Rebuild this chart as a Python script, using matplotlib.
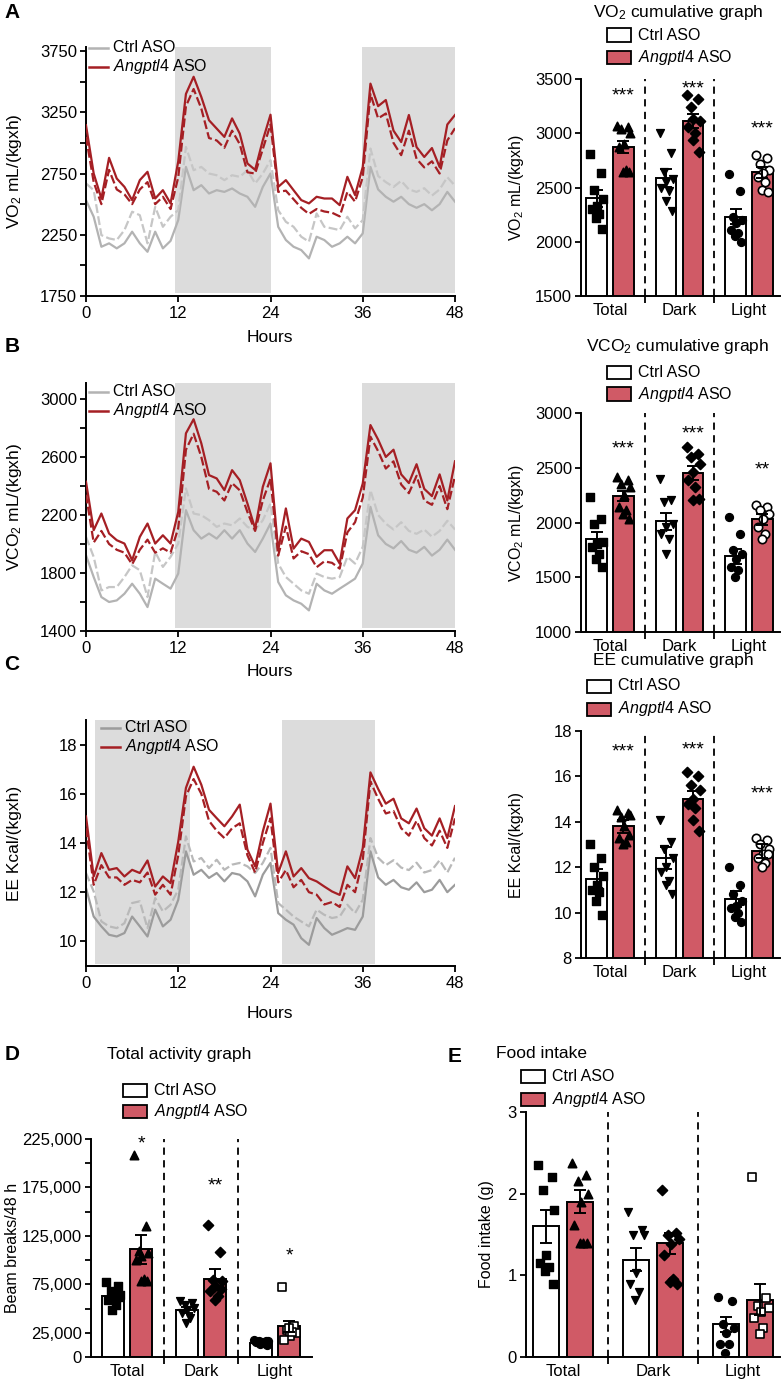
import numpy as np
import matplotlib
matplotlib.use('Agg')
import matplotlib.pyplot as plt
from matplotlib.patches import Rectangle
from matplotlib.lines import Line2D
from matplotlib.ticker import FuncFormatter

plt.rcParams['font.family'] = ['Liberation Sans', 'DejaVu Sans']
plt.rcParams['mathtext.fontset'] = 'custom'
plt.rcParams['mathtext.rm'] = 'Liberation Sans'
plt.rcParams['mathtext.it'] = 'Liberation Sans:italic'
plt.rcParams['mathtext.bf'] = 'Liberation Sans:bold'

W, H = 783, 1385

# ---------------- time course data (hourly) ----------------
hours = np.arange(0, 49)

vo2_ctrl = [2533, 2397, 2152, 2180, 2139, 2180, 2275, 2180, 2111, 2275, 2139, 2200, 2370,
            2804, 2614, 2655, 2587, 2614, 2600, 2628, 2587, 2560, 2478, 2641, 2750,
            2315, 2207, 2152, 2125, 2057, 2234, 2207, 2152, 2180, 2234, 2180, 2261,
            2804, 2620, 2560, 2520, 2560, 2500, 2470, 2500, 2450, 2500, 2600, 2520]
vo2_ctrl_d = [2669, 2614, 2247, 2220, 2207, 2288, 2438, 2410, 2180, 2478, 2315, 2397, 2451,
              2967, 2777, 2804, 2750, 2736, 2696, 2736, 2723, 2777, 2669, 2750, 2859,
              2451, 2356, 2315, 2234, 2193, 2424, 2315, 2302, 2288, 2397, 2302, 2370,
              2954, 2730, 2680, 2640, 2690, 2620, 2600, 2630, 2570, 2620, 2720, 2650]
vo2_asp = [3144, 2750, 2546, 2878, 2709, 2641, 2533, 2696, 2764, 2546, 2614, 2506, 2850,
           3400, 3540, 3375, 3185, 3117, 3049, 3200, 3076, 2832, 2780, 3022, 3230,
           2641, 2696, 2614, 2533, 2506, 2560, 2546, 2546, 2492, 2723, 2574, 2804,
           3484, 3300, 3350, 3100, 3007, 3228, 2966, 2885, 2958, 2803, 3150, 3228]
vo2_asp_d = [3049, 2680, 2500, 2780, 2620, 2580, 2500, 2620, 2680, 2500, 2560, 2460, 2720,
             3300, 3440, 3280, 3040, 3020, 2960, 3100, 2990, 2760, 2750, 2950, 3150,
             2600, 2610, 2540, 2470, 2420, 2460, 2440, 2430, 2400, 2600, 2520, 2720,
             3400, 3200, 3240, 3000, 2900, 3100, 2870, 2800, 2850, 2750, 3020, 3120]

vco2_ctrl = [1922, 1772, 1634, 1600, 1611, 1657, 1726, 1657, 1565, 1761, 1726, 1692, 1796,
             2233, 2095, 2037, 2072, 2037, 2095, 2037, 2095, 2003, 1945, 2037, 2141,
             1738, 1646, 1611, 1588, 1542, 1726, 1680, 1657, 1692, 1726, 1761, 1865,
             2256, 2060, 2000, 1970, 2020, 1960, 1940, 1980, 1920, 1960, 2030, 1960]
vco2_ctrl_d = [2049, 1911, 1680, 1703, 1703, 1772, 1853, 1819, 1634, 1945, 1842, 1911, 2003,
               2383, 2210, 2199, 2164, 2118, 2141, 2129, 2176, 2118, 2095, 2164, 2279,
               1865, 1772, 1726, 1680, 1657, 1796, 1772, 1761, 1772, 1911, 1865, 1980,
               2371, 2200, 2140, 2100, 2150, 2090, 2070, 2100, 2050, 2090, 2160, 2100]
vco2_asp = [2429, 2095, 2210, 2072, 2026, 2003, 1888, 2049, 2141, 2003, 2060, 2003, 2222,
            2763, 2860, 2694, 2475, 2452, 2371, 2509, 2440, 2279, 2106, 2394, 2556,
            1957, 2245, 1968, 2037, 2014, 1911, 1957, 1957, 1865, 2176, 2233, 2417,
            2820, 2720, 2600, 2650, 2480, 2420, 2550, 2380, 2330, 2480, 2300, 2570]
vco2_asp_d = [2340, 2010, 2090, 2000, 1960, 1940, 1860, 1960, 2030, 1940, 1970, 1940, 2110,
              2650, 2760, 2600, 2380, 2360, 2300, 2420, 2370, 2220, 2090, 2300, 2450,
              1920, 2120, 1900, 1950, 1930, 1840, 1880, 1870, 1830, 2080, 2150, 2320,
              2740, 2640, 2520, 2570, 2410, 2350, 2470, 2300, 2270, 2400, 2240, 2470]

ee_ctrl = [12.17, 11.01, 10.61, 10.27, 10.20, 10.34, 11.01, 10.61, 10.20, 11.29, 10.61, 10.88, 11.69,
           13.66, 12.71, 12.91, 12.58, 12.78, 12.44, 12.78, 12.71, 12.44, 11.83, 12.71, 13.19,
           11.15, 10.88, 10.68, 10.13, 9.86, 10.95, 10.54, 10.27, 10.40, 10.54, 10.47, 11.01,
           13.66, 12.6, 12.3, 12.5, 12.2, 12.1, 12.4, 12.0, 12.1, 12.5, 12.0, 12.3]
ee_ctrl_d = [12.78, 12.03, 10.81, 10.61, 10.54, 10.74, 11.56, 11.63, 10.54, 11.76, 11.22, 11.49, 12.10,
             14.27, 13.25, 13.39, 12.98, 13.32, 12.91, 13.12, 13.19, 13.05, 12.78, 13.19, 13.80,
             11.56, 11.29, 11.01, 10.81, 10.61, 11.29, 11.08, 10.95, 11.01, 11.49, 11.15, 11.69,
             14.20, 13.4, 13.1, 13.3, 13.0, 12.9, 13.2, 12.8, 12.9, 13.3, 12.8, 13.4]
ee_asp = [15.08, 12.64, 13.59, 12.91, 12.98, 12.64, 12.91, 12.78, 13.29, 12.23, 12.64, 12.37, 14.06,
          16.24, 17.10, 16.37, 15.35, 15.01, 14.68, 15.08, 15.56, 13.73, 13.05, 14.47, 15.60,
          12.78, 13.66, 12.64, 12.98, 12.57, 12.44, 12.23, 12.03, 11.89, 13.05, 12.57, 13.79,
          16.87, 16.2, 15.6, 15.8, 15.0, 14.8, 15.4, 14.6, 14.3, 15.0, 14.2, 15.5]
ee_asp_d = [14.6, 12.3, 13.1, 12.6, 12.6, 12.3, 12.5, 12.4, 12.8, 11.9, 12.3, 11.9, 13.5,
            15.9, 16.6, 16.0, 14.9, 14.5, 14.2, 14.6, 14.8, 13.5, 12.8, 14.0, 15.0,
            12.4, 12.9, 12.2, 12.5, 12.0, 11.9, 11.5, 11.6, 11.4, 12.3, 12.0, 13.3,
            16.5, 15.8, 15.2, 15.3, 14.6, 14.3, 14.9, 14.2, 13.9, 14.5, 13.8, 15.0]

dark_ab = [(11.6, 24), (35.9, 48)]
dark_c = [(1.2, 13.5), (25.5, 37.6)]

# ---------------- bar data ----------------
periods = ['Total', 'Dark', 'Light']

vo2_c_mean, vo2_c_sem = [2400, 2590, 2230], [80, 85, 70]
vo2_a_mean, vo2_a_sem = [2870, 3110, 2640], [55, 65, 50]
vo2_c_pts = [[2810, 2630, 2480, 2390, 2330, 2300, 2260, 2220, 2120],
             [3000, 2820, 2640, 2580, 2550, 2500, 2470, 2380, 2280],
             [2620, 2470, 2230, 2200, 2170, 2110, 2080, 2050, 2000]]
vo2_a_pts = [[3070, 3060, 3040, 3000, 2900, 2870, 2660, 2640, 2640],
             [3350, 3320, 3240, 3110, 3130, 3060, 3000, 2940, 2830],
             [2800, 2770, 2720, 2660, 2630, 2600, 2550, 2480, 2460]]
vo2_stars, vo2_star_y = ['***', '***', '***'], [3400, 3472, 3104]

vco2_c_mean, vco2_c_sem = [1852, 2011, 1690], [60, 75, 70]
vco2_a_mean, vco2_a_sem = [2245, 2455, 2030], [45, 65, 50]
vco2_c_pts = [[2233, 2035, 1990, 1822, 1807, 1776, 1715, 1670, 1594],
              [2400, 2203, 2187, 1990, 1959, 1898, 1852, 1715],
              [2050, 1898, 1746, 1715, 1670, 1594, 1563, 1503]]
vco2_a_pts = [[2416, 2385, 2355, 2324, 2250, 2142, 2111, 2081, 2035],
              [2690, 2629, 2598, 2537, 2460, 2385, 2324, 2203, 2215],
              [2157, 2142, 2111, 2081, 2035, 1959, 1898, 1852]]
vco2_stars, vco2_star_y = ['***', '***', '**'], [2735, 2872, 2543]

ee_c_mean, ee_c_sem = [11.5, 12.4, 10.6], [0.4, 0.5, 0.35]
ee_a_mean, ee_a_sem = [13.8, 15.0, 12.7], [0.3, 0.35, 0.3]
ee_c_pts = [[13.0, 12.4, 12.0, 11.6, 11.2, 11.0, 10.9, 10.5, 9.9],
            [14.1, 13.1, 12.8, 12.4, 12.0, 11.8, 11.4, 11.2, 10.8],
            [12.0, 11.2, 10.8, 10.5, 10.3, 10.2, 10.0, 9.8, 9.6]]
ee_a_pts = [[14.5, 14.4, 14.2, 14.3, 13.8, 13.3, 13.1, 13.0, 13.4],
            [16.2, 16.0, 15.6, 15.4, 15.0, 14.8, 14.6, 14.1, 13.6],
            [13.3, 13.2, 13.0, 12.8, 12.6, 12.4, 12.2, 12.0, 12.6]]
ee_stars, ee_star_y = ['***', '***', '***'], [17.35, 17.45, 15.5]

act_c_mean, act_c_sem = [63000, 48500, 14400], [3000, 2800, 800]
act_a_mean, act_a_sem = [111000, 81000, 31500], [15000, 9500, 6000]
act_c_pts = [[77000, 72800, 67700, 64200, 62500, 59100, 53900, 48800, 62000],
             [57400, 55500, 53900, 50500, 48000, 45300, 40200, 35000],
             [18000, 17000, 16500, 16000, 15500, 15000, 14500, 13500, 12500]]
act_a_pts = [[208500, 135300, 109000, 107000, 104000, 100000, 80000, 78000, 78000],
             [136400, 107900, 79700, 78000, 72800, 67700, 62500, 59100, 70000],
             [72100, 31600, 28200, 24900, 21300, 18000, 26000, 30000]]
act_stars, act_star_y = ['*', '**', '*'], [227000, 183400, 110600]

food_c_mean, food_c_sem = [1.6, 1.19, 0.4], [0.2, 0.14, 0.09]
food_a_mean, food_a_sem = [1.9, 1.39, 0.7], [0.14, 0.13, 0.19]
food_c_pts = [[2.35, 2.2, 2.05, 1.8, 1.25, 1.15, 1.1, 1.05, 0.9],
              [1.77, 1.55, 1.5, 1.5, 1.03, 0.9, 0.8, 0.7],
              [0.73, 0.68, 0.4, 0.35, 0.3, 0.16, 0.16, 0.05]]
food_a_pts = [[2.38, 2.23, 2.15, 2.0, 1.9, 1.62, 1.4, 1.4, 1.4],
              [2.05, 1.52, 1.5, 1.45, 1.38, 1.25, 0.95, 0.92, 0.9],
              [2.2, 0.72, 0.62, 0.6, 0.55, 0.48, 0.35, 0.28]]

# ---------------- styling ----------------
RED = '#A51F24'
BAR_RED = '#D05A66'
SHADE = '#DCDCDC'
ASP_LABEL = r'$\it{Angptl4}$ ASO'
JIT = np.array([-0.30, 0.22, -0.10, 0.32, 0.02, -0.22, 0.12, -0.02, 0.28])

fig = plt.figure(figsize=(W / 100, H / 100), dpi=100)


def axes_px(x0, y0, x1, y1):
    return fig.add_axes([x0 / W, 1 - y1 / H, (x1 - x0) / W, (y1 - y0) / H])


def ftext(x, y, s, **kw):
    fig.text(x / W, 1 - y / H, s, **kw)


def style(ax):
    for side in ['top', 'right']:
        ax.spines[side].set_visible(False)
    for side in ['left', 'bottom']:
        ax.spines[side].set_linewidth(1.4)
    ax.tick_params(which='both', direction='out', length=4.5, width=1.3,
                   labelsize=12, pad=2)


def time_panel(box, ylim, yticks, yminor, shade_lo, dark, series, grays,
               ylabel, hours_y, leg_x, leg_y):
    ax = axes_px(*box)
    style(ax)
    for a, b in dark:
        ax.add_patch(Rectangle((a, shade_lo), b - a, ylim[1] - shade_lo,
                               facecolor=SHADE, lw=0, zorder=0))
    c_s, c_d, a_s, a_d = series
    ax.plot(hours, c_s, color=grays[0], lw=1.6, zorder=2)
    ax.plot(hours, c_d, color=grays[1], lw=1.6, ls=(0, (4, 1.5)), zorder=2)
    ax.plot(hours, a_d, color=RED, lw=1.6, ls=(0, (4, 1.5)), zorder=3)
    ax.plot(hours, a_s, color=RED, lw=1.6, zorder=3)
    ax.set_xlim(0, 48)
    ax.set_ylim(*ylim)
    ax.set_xticks([0, 12, 24, 36, 48])
    ax.set_yticks(yticks)
    ax.set_yticks(yminor, minor=True)
    ax.tick_params(axis='x', pad=3)
    ftext(270, hours_y, 'Hours', fontsize=12.5, ha='center', va='center')
    ftext(15, (box[1] + box[3]) / 2, ylabel, fontsize=12.5, ha='center',
          va='center', rotation=90)
    for dy, col, lab in [(0, grays[0], 'Ctrl ASO'), (19, RED, ASP_LABEL)]:
        y = 1 - (leg_y + dy) / H
        fig.add_artist(Line2D([leg_x / W, (leg_x + 19) / W], [y, y], color=col, lw=1.8))
        ftext(leg_x + 24, leg_y + dy, lab, fontsize=11.5, va='center', ha='left')
    return ax


def bar_panel(box, ylim, yticks, c_mean, c_sem, a_mean, a_sem, c_pts, a_pts,
              a_marks, xlim, off, width, ylabel, ylab_x, stars=None, star_y=None,
              yfmt=None, yminor=None):
    ax = axes_px(*box)
    style(ax)
    pos = np.arange(3)
    ax.bar(pos - off, c_mean, width, color='white', edgecolor='k', lw=1.4, zorder=2)
    ax.bar(pos + off, a_mean, width, color=BAR_RED, edgecolor='k', lw=1.4, zorder=2)
    c_marks = ['s', 'v', 'o']
    for i in range(3):
        n = len(c_pts[i])
        ax.scatter(pos[i] - off + JIT[:n] * width, c_pts[i], marker=c_marks[i],
                   s=32, color='k', zorder=3, clip_on=False)
        n = len(a_pts[i])
        m, face = a_marks[i]
        ax.scatter(pos[i] + off + JIT[:n] * width, a_pts[i], marker=m,
                   s=26 if m == 'D' else 36, facecolor=face, edgecolor='k',
                   linewidths=1.2, zorder=3, clip_on=False)
    ax.errorbar(pos - off, c_mean, yerr=c_sem, fmt='none', ecolor='k',
                elinewidth=1.4, capsize=4.5, capthick=1.4, zorder=4)
    ax.errorbar(pos + off, a_mean, yerr=a_sem, fmt='none', ecolor='k',
                elinewidth=1.4, capsize=4.5, capthick=1.4, zorder=4)
    for xs in [0.5, 1.5]:
        ax.axvline(xs, color='k', lw=1.3, ls=(0, (4, 3)), zorder=1)
    if stars:
        for i in range(3):
            ax.annotate(stars[i], (pos[i] + off, star_y[i]), xytext=(0, -8),
                        textcoords='offset points', ha='center', va='baseline',
                        fontsize=14, annotation_clip=False)
    ax.set_xlim(*xlim)
    ax.set_ylim(*ylim)
    ax.set_yticks(yticks)
    if yminor is not None:
        ax.set_yticks(yminor, minor=True)
    if yfmt is not None:
        ax.yaxis.set_major_formatter(yfmt)
    ax.set_xticks(pos)
    ax.set_xticklabels(periods)
    ax.set_xticks([0.5, 1.5], minor=True)
    ax.tick_params(axis='x', which='major', length=0, pad=5)
    ax.tick_params(axis='x', which='minor', length=5)
    ftext(ylab_x, (box[1] + box[3]) / 2, ylabel, fontsize=11.5, ha='center',
          va='center', rotation=90)
    return ax


def bar_legend(x, yc, ya, title, title_xy):
    for y, fc, lab in [(yc, 'white', 'Ctrl ASO'), (ya, BAR_RED, ASP_LABEL)]:
        fig.add_artist(Rectangle((x / W, 1 - (y + 6.5) / H), 24 / W, 13 / H,
                                 transform=fig.transFigure, facecolor=fc,
                                 edgecolor='k', lw=1.3))
        ftext(x + 31, y, lab, fontsize=11.5, va='center', ha='left')
    ftext(title_xy[0], title_xy[1], title, fontsize=12.5, ha='center', va='center')


gray_ab = ('#B3B3B3', '#C6C6C6')
gray_c = ('#9C9C9C', '#B9B9B9')

# A
time_panel((86, 47, 455, 296), (1750, 3783), [1750, 2250, 2750, 3250, 3750],
           [2000, 2500, 3000, 3500], 1775, dark_ab,
           (vo2_ctrl, vo2_ctrl_d, vo2_asp, vo2_asp_d), gray_ab,
           r'VO$_2$ mL/(kgxh)', 338, 89, 48)
# B
time_panel((86, 383, 455, 631), (1400, 3110), [1400, 1800, 2200, 2600, 3000],
           [1600, 2000, 2400, 2800], 1420, dark_ab,
           (vco2_ctrl, vco2_ctrl_d, vco2_asp, vco2_asp_d), gray_ab,
           r'VCO$_2$ mL/(kgxh)', 671, 89, 392)
# C
time_panel((86, 720, 455, 966), (9, 19), [10, 12, 14, 16, 18], [], 9.1, dark_c,
           (ee_ctrl, ee_ctrl_d, ee_asp, ee_asp_d), gray_c,
           'EE Kcal/(kgxh)', 1013, 101, 728)

marks_abc = [('^', 'k'), ('D', 'k'), ('o', 'white')]
marks_de = [('^', 'k'), ('D', 'k'), ('s', 'white')]
xlim_abc = (-0.417, 2.446)

bar_panel((581, 79, 780, 296), (1500, 3500), [1500, 2000, 2500, 3000, 3500],
          vo2_c_mean, vo2_c_sem, vo2_a_mean, vo2_a_sem, vo2_c_pts, vo2_a_pts,
          marks_abc, xlim_abc, 0.194, 0.30, r'VO$_2$ mL/(kgxh)', 516,
          vo2_stars, vo2_star_y)
bar_legend(607, 35, 57.5, r'VO$_2$ cumulative graph', (678, 12))

bar_panel((581, 413, 780, 632), (1000, 3000), [1000, 1500, 2000, 2500, 3000],
          vco2_c_mean, vco2_c_sem, vco2_a_mean, vco2_a_sem, vco2_c_pts, vco2_a_pts,
          marks_abc, xlim_abc, 0.194, 0.30, r'VCO$_2$ mL/(kgxh)', 516,
          vco2_stars, vco2_star_y)
bar_legend(607, 372.5, 394, r'VCO$_2$ cumulative graph', (678, 346))

bar_panel((581, 731, 780, 958), (8, 18), [8, 10, 12, 14, 16, 18],
          ee_c_mean, ee_c_sem, ee_a_mean, ee_a_sem, ee_c_pts, ee_a_pts,
          marks_abc, xlim_abc, 0.194, 0.30, 'EE Kcal/(kgxh)', 516,
          ee_stars, ee_star_y)
bar_legend(587, 686, 709, 'EE cumulative graph', (673, 661))

bar_panel((91, 1139, 312, 1357), (0, 225000), [0, 25000, 75000, 125000, 175000, 225000],
          act_c_mean, act_c_sem, act_a_mean, act_a_sem, act_c_pts, act_a_pts,
          marks_de, (-0.486, 2.5), 0.19, 0.30, 'Beam breaks/48 h', 13,
          act_stars, act_star_y, yfmt=FuncFormatter(lambda v, p: f'{int(v):,}'),
          yminor=[50000, 100000, 150000, 200000])
bar_legend(123, 1090.5, 1111.5, 'Total activity graph', (179, 1055))

bar_panel((526, 1112, 780, 1357), (0, 3), [0, 1, 2, 3],
          food_c_mean, food_c_sem, food_a_mean, food_a_sem, food_c_pts, food_a_pts,
          marks_de, (-0.411, 2.41), 0.19, 0.29, 'Food intake (g)', 487)
bar_legend(521, 1076.5, 1099.5, 'Food intake', (542, 1053))

for lab, x, y in [('A', 12, 12), ('B', 12, 347), ('C', 12, 665), ('D', 12, 1055), ('E', 455, 1057)]:
    ftext(x, y, lab, fontsize=15, fontweight='bold', ha='center', va='center')

fig.savefig('out.png', dpi=100)
